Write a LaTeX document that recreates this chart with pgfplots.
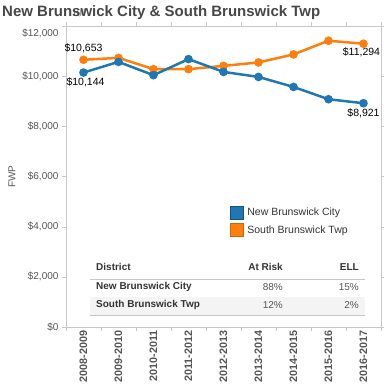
\documentclass[border=0pt]{standalone}
\usepackage{pgfplots}
\pgfplotsset{compat=1.18}
\usepackage{fontspec}
\setmainfont{Liberation Sans}
\definecolor{nbblue}{HTML}{1F77B4}
\definecolor{sborange}{HTML}{FF7F0E}
\definecolor{txt}{HTML}{555555}
\definecolor{dark}{HTML}{333333}
\definecolor{frame}{HTML}{C8C8C8}
\definecolor{band}{HTML}{F4F4F4}
\begin{document}
\begin{tikzpicture}
\begin{axis}[
  at={(66pt,57pt)}, anchor=south west,
  scale only axis, width=315pt, height=301pt,
  xmin=-0.5, xmax=8.5, ymin=0, ymax=12000,
  axis line style={draw=frame},
  tick align=outside,
  xtick={-0.5,0.5,...,8.5}, xticklabels={},
  major tick length=4pt,
  tick style={draw=frame},
  extra x ticks={0,1,2,3,4,5,6,7,8},
  extra x tick labels={2008-2009,2009-2010,2010-2011,2011-2012,2012-2013,2013-2014,2014-2015,2015-2016,2016-2017},
  extra x tick style={major tick length=0pt, tick label style={rotate=90, anchor=east, font=\fontsize{10.8}{12}\selectfont\bfseries, text=txt}},
  ytick={0,2000,4000,6000,8000,10000,12000},
  yticklabels={\$0,{\$2,000},{\$4,000},{\$6,000},{\$8,000},{\$10,000},{\raisebox{-10.5pt}[0pt][0pt]{\$12,000}}},
  yticklabel style={font=\fontsize{10}{12}\selectfont, text=txt},
  ylabel={FWP}, ylabel style={font=\fontsize{10}{12}\selectfont, text=txt},
  legend style={at={(0.51,0.41)}, anchor=north west, draw=none, fill=none,
    font=\fontsize{10.5}{12}\selectfont, text=dark, row sep=4pt},
  legend cell align=left,
  reverse legend,
]
\addplot[sborange, line width=2.5pt, mark=*, mark size=3pt,
  legend image code/.code={\draw[line width=0.5pt, draw=sborange!80!black, fill=sborange] (0pt,-6.5pt) rectangle (13pt,6.5pt);}]
  coordinates {(0,10653) (1,10730) (2,10280) (3,10280) (4,10410) (5,10547) (6,10867) (7,11413) (8,11294)};
\addlegendentry{\hspace{2pt}South Brunswick Twp}
\addplot[nbblue, line width=2.5pt, mark=*, mark size=3pt,
  legend image code/.code={\draw[line width=0.5pt, draw=nbblue!70!black, fill=nbblue] (0pt,-6.5pt) rectangle (13pt,6.5pt);}]
  coordinates {(0,10144) (1,10570) (2,10040) (3,10680) (4,10170) (5,9970) (6,9570) (7,9080) (8,8921)};
\addlegendentry{\hspace{2pt}New Brunswick City}
\node[font=\fontsize{10.5}{12}\selectfont, text=black, yshift=12pt] at (axis cs:0,10653) {\$10,653};
\node[font=\fontsize{10.5}{12}\selectfont, text=black, yshift=-10pt, xshift=2pt] at (axis cs:0,10144) {\$10,144};
\node[font=\fontsize{10.5}{12}\selectfont, text=black, yshift=-9pt, xshift=-2pt] at (axis cs:8,11294) {\$11,294};
\node[font=\fontsize{10.5}{12}\selectfont, text=black, yshift=-10pt] at (axis cs:8,8921) {\$8,921};
\end{axis}
% table
\fill[band] (90pt,69pt) rectangle (365pt,87pt);
\draw[frame, line width=0.6pt] (90pt,105pt) -- (365pt,105pt);
\draw[frame, line width=0.6pt] (90pt,69pt) -- (365pt,69pt);
\begin{scope}[every node/.style={font=\fontsize{10}{12}\selectfont, inner sep=0pt}]
\node[anchor=west, text=dark, font=\fontsize{10}{12}\selectfont\bfseries] at (96pt,117pt) {District};
\node[anchor=east, text=dark, font=\fontsize{10}{12}\selectfont\bfseries] at (283pt,117pt) {At Risk};
\node[anchor=east, text=dark, font=\fontsize{10}{12}\selectfont\bfseries] at (359pt,117pt) {ELL};
\node[anchor=west, text=dark, font=\fontsize{10}{12}\selectfont\bfseries] at (96pt,97pt) {New Brunswick City};
\node[anchor=east, text=txt] at (283pt,97pt) {88\%};
\node[anchor=east, text=txt] at (359pt,97pt) {15\%};
\node[anchor=west, text=dark, font=\fontsize{10}{12}\selectfont\bfseries] at (96pt,79pt) {South Brunswick Twp};
\node[anchor=east, text=txt] at (283pt,79pt) {12\%};
\node[anchor=east, text=txt] at (359pt,79pt) {2\%};
\end{scope}
\node[anchor=west, inner sep=0pt, text=dark!90, font=\fontsize{15}{18}\selectfont\bfseries] at (2pt,371pt) {New Brunswick City \& South Brunswick Twp};
\pgfresetboundingbox
\useasboundingbox (0pt,0pt) rectangle (384pt,384pt);
\end{tikzpicture}
\end{document}
